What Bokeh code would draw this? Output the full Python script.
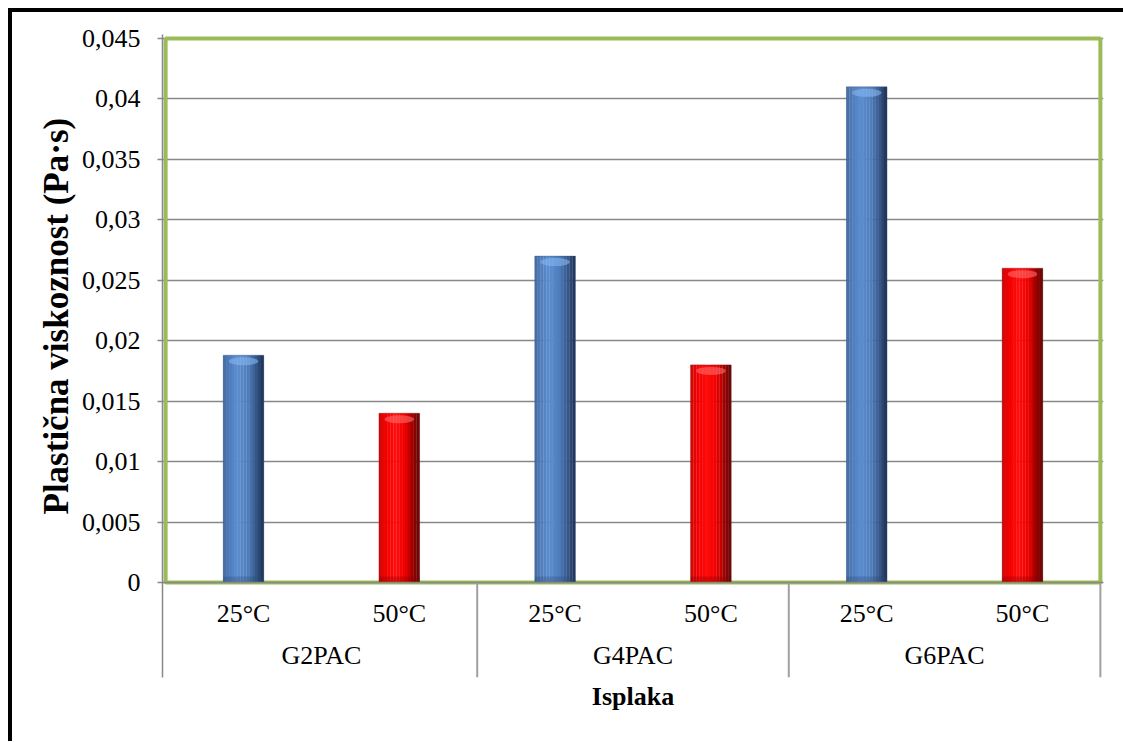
from bokeh.plotting import figure
from bokeh.models import FactorRange, ColumnDataSource, FixedTicker, Range1d, Title
from bokeh.transform import dodge
from bokeh.embed import file_html
from bokeh.resources import INLINE

# ---- data ----
groups = ["G2PAC", "G4PAC", "G6PAC"]
temperatures = ["25°C", "50°C"]
visc_25C = [0.0188, 0.027, 0.041]
visc_50C = [0.014, 0.018, 0.026]
y_ticks = [0, 0.005, 0.01, 0.015, 0.02, 0.025, 0.03, 0.035, 0.04, 0.045]
y_tick_labels = ["0", "0,005", "0,01", "0,015", "0,02", "0,025", "0,03", "0,035", "0,04", "0,045"]
y_title = "Plastična viskoznost (Pa·s)"
x_title = "Isplaka"

# ---- style / layout constants ----
FONT = "Liberation Serif"
GRAY = "#888888"
SEP_GRAY = "#a0a0a0"
GREEN = "#9BBB59"
Y_MAX = y_ticks[-1]
PLOT_PX = 544                 # pixel height of the value area
PX = Y_MAX / PLOT_PX          # data units per pixel
PAD_X = 0.02                  # category-units padding so the green frame is fully visible

factors = [(g, t) for g in groups for t in temperatures]
x_range = FactorRange(*factors, factor_padding=0, group_padding=0,
                      subgroup_padding=0, range_padding=PAD_X,
                      range_padding_units="absolute")
y_range = Range1d(-95 * PX, Y_MAX + 4 * PX)

p = figure(x_range=x_range, y_range=y_range,
           frame_width=941, frame_height=643,
           min_border_left=150, min_border_top=22, min_border_right=20,
           min_border_bottom=64,
           output_backend="svg", toolbar_location=None)
p.styles = {"margin-left": "8px", "margin-top": "8px",
            "border-left": "4px solid black", "border-top": "4px solid black"}

p.background_fill_color = "white"
p.border_fill_color = "white"
p.outline_line_color = None

# grid
p.xgrid.grid_line_color = None
p.ygrid.grid_line_color = GRAY
p.ygrid.grid_line_width = 1.5
p.ygrid.ticker = FixedTicker(ticks=y_ticks)

# y axis
p.yaxis.ticker = FixedTicker(ticks=y_ticks)
p.yaxis.major_label_overrides = {t: l for t, l in zip(y_ticks, y_tick_labels)}
p.yaxis.minor_tick_line_color = None
p.yaxis.major_tick_in = 0
p.yaxis.major_tick_out = 5
p.yaxis.major_tick_line_color = GRAY
p.yaxis.major_tick_line_width = 1.5
p.yaxis.axis_line_color = GRAY
p.yaxis.axis_line_width = 1.5
p.yaxis.major_label_standoff = 17
p.yaxis.major_label_text_font = FONT
p.yaxis.major_label_text_font_size = "26px"
p.yaxis.major_label_text_color = "black"

# y title (vertical, left of the axis), starting from the bottom of the panel
p.add_layout(Title(text=y_title, align="left", offset=163, standoff=6,
                   text_font=FONT, text_font_size="35px", text_font_style="bold",
                   text_color="black"), "left")

# x axis (drawn at value 0 inside the extended frame)
p.xaxis.fixed_location = 0
p.xaxis.major_tick_line_color = None
p.xaxis.minor_tick_line_color = None
p.xaxis.axis_line_color = GRAY
p.xaxis.axis_line_width = 1.5
p.xaxis.major_label_text_font = FONT
p.xaxis.major_label_text_font_size = "26px"
p.xaxis.major_label_text_color = "black"
p.xaxis.major_label_standoff = 10
p.xaxis.group_text_font = FONT
p.xaxis.group_text_font_size = "26px"
p.xaxis.group_text_font_style = "normal"
p.xaxis.group_text_color = "black"
p.xaxis.separator_line_color = None

# x title
p.add_layout(Title(text=x_title, align="center", standoff=4,
                   text_font=FONT, text_font_size="26px", text_font_style="bold",
                   text_color="black"), "below")

# green plot-area border
n_cat = len(factors)
p.quad(left=[0], right=[n_cat], bottom=[0], top=[Y_MAX],
       fill_color=None, line_color=GREEN, line_width=4)

# group separators under the category axis
sep_x = [len(temperatures) * (i + 1) for i in range(len(groups))]
p.segment(x0=sep_x, y0=[-95 * PX] * len(sep_x), x1=sep_x, y1=[0] * len(sep_x),
          line_color=SEP_GRAY, line_width=2)

# ---- bars (cylinder-like shading by narrow strips) ----
src_25 = ColumnDataSource(dict(x=[(g, temperatures[0]) for g in groups], top=visc_25C))
src_50 = ColumnDataSource(dict(x=[(g, temperatures[1]) for g in groups], top=visc_50C))

def lerp_profile(profile, t):
    for (t0, c0), (t1, c1) in zip(profile[:-1], profile[1:]):
        if t0 <= t <= t1:
            f = (t - t0) / (t1 - t0) if t1 > t0 else 0
            c = [int(round(a + (b - a) * f)) for a, b in zip(c0, c1)]
            return "#%02x%02x%02x" % tuple(c)
    return "#%02x%02x%02x" % tuple(profile[-1][1])

blue_profile = [(0.0, (70, 108, 160)), (0.12, (78, 122, 182)), (0.35, (92, 142, 208)),
                (0.6, (80, 126, 190)), (0.82, (52, 86, 136)), (1.0, (30, 50, 82))]
red_profile = [(0.0, (205, 10, 10)), (0.15, (240, 0, 0)), (0.4, (255, 12, 12)),
               (0.65, (238, 0, 0)), (0.85, (150, 0, 0)), (1.0, (95, 10, 10))]

BAR_W = 0.26
N = 14
sw = BAR_W / N
for src, prof, hi, low in ((src_25, blue_profile, "#86b6f0", "#2a4570"),
                           (src_50, red_profile, "#ff6a6a", "#7a0000")):
    for k in range(N):
        off = -BAR_W / 2 + sw * (k + 0.5)
        col = lerp_profile(prof, (k + 0.5) / N)
        p.vbar(x=dodge("x", off, range=x_range), top="top", bottom=0,
               width=sw * 1.08, source=src, fill_color=col, line_color=None)
    # top highlight and bottom shade
    p.ellipse(x="x", y=dodge("top", -6 * PX), width=0.19, height=8,
              height_units="screen", source=src, fill_color=hi, fill_alpha=0.6,
              line_color=None)
    p.vbar(x="x", top=6 * PX, bottom=0, width=BAR_W, source=src,
           fill_color=low, fill_alpha=0.3, line_color=None)
    p.vbar(x="x", top="top", bottom=0, width=BAR_W, source=src,
           fill_color=None, line_color=low, line_alpha=0.35, line_width=1)

open("out.html", "w").write(file_html(p, INLINE))
